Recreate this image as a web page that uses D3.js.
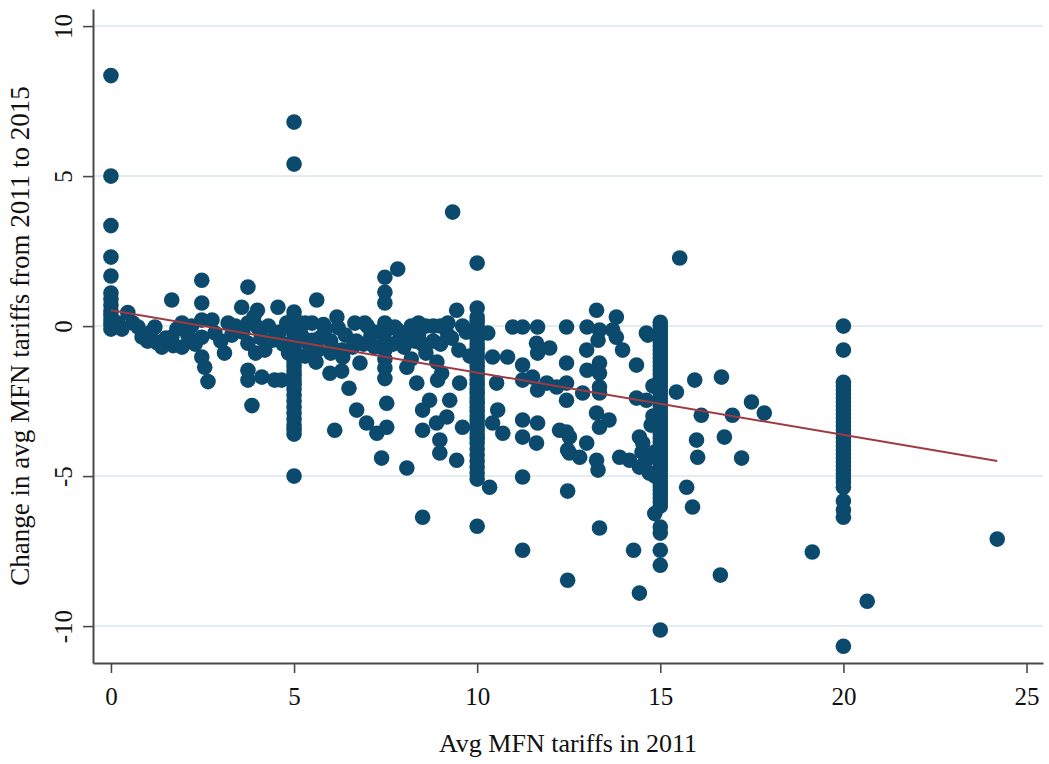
<!DOCTYPE html>
<html><head><meta charset="utf-8">
<script src="https://cdn.jsdelivr.net/npm/d3@7"></script>
<style>body{margin:0;background:#fff} svg{display:block}</style>
</head><body><svg id="c" width="1049" height="764"></svg>
<script>
// ---- data ----
const xTicks = [0, 5, 10, 15, 20, 25];
const yTicks = [-10, -5, 0, 5, 10];
const xTitle = "Avg MFN tariffs in 2011";
const yTitle = "Change in avg MFN tariffs from 2011 to 2015";

// vertical columns of countries at round tariff levels
const col0Y = [8.35, 5.0, 3.35, 2.3, 1.67, 1.1, 0.9, 0.7, 0.5, 0.35, 0.2, 0.05, -0.1];
const col5Y = [6.8, 5.4, 0.47, 0.3, 0.15, 0.0, -0.15, -0.3, -0.45, -0.6, -0.75, -0.9, -1.05, -1.2, -1.35, -1.5, -1.65, -1.8, -1.95, -2.1, -2.3, -2.5, -2.7, -2.9, -3.1, -3.3, -3.45, -3.6, -5.0];
const col10Y = [2.1, 0.6, 0.3, 0.15, 0.0, -0.15, -0.3, -0.45, -0.6, -0.75, -0.9, -1.05, -1.2, -1.35, -1.5, -1.65, -1.8, -1.95, -2.1, -2.25, -2.4, -2.55, -2.7, -2.85, -3.0, -3.15, -3.3, -3.45, -3.6, -3.75, -3.9, -4.1, -4.3, -4.5, -4.7, -4.9, -5.1, -6.67];
const col15Y = [0.13, 0.0, -0.13, -0.26, -0.4, -0.53, -0.66, -0.8, -0.93, -1.06, -1.2, -1.33, -1.46, -1.6, -1.73, -1.86, -2.0, -2.13, -2.26, -2.4, -2.53, -2.66, -2.8, -2.93, -3.06, -3.2, -3.33, -3.46, -3.6, -3.73, -3.86, -4.0, -4.13, -4.26, -4.4, -4.53, -4.66, -4.8, -4.93, -5.06, -5.2, -5.33, -5.46, -5.6, -5.73, -5.86, -6.0, -6.7, -6.9, -7.47, -7.97, -10.13];
const col20Y = [0.0, -0.8, -1.87, -2.0, -2.13, -2.26, -2.4, -2.53, -2.66, -2.8, -2.93, -3.06, -3.2, -3.33, -3.46, -3.6, -3.73, -3.86, -4.0, -4.13, -4.26, -4.4, -4.53, -4.66, -4.8, -4.93, -5.06, -5.2, -5.37, -5.83, -6.13, -6.37, -10.67];

// other countries [tariff 2011, change 2011-2015]
const pointsLow = [[0.2,0.1],[0.3,-0.1],[0.46,0.45],[0.6,0.1],[0.74,-0.03],[0.85,-0.36],[1.0,-0.5],[1.1,-0.2],[1.2,-0.03],[1.25,-0.55],[1.39,-0.7],[1.5,-0.4],[1.66,0.87],[1.66,-0.37],[1.7,-0.65],[1.8,-0.1],[1.94,0.1],[1.94,-0.7],[2.1,-0.3],[2.2,0.0],[2.3,-0.6],[2.48,1.53],[2.48,0.77],[2.48,0.2],[2.48,-0.37],[2.48,-1.03],[2.56,-1.37],[2.65,-1.85],[2.76,0.2],[2.84,-0.23],[3.0,-0.5],[3.1,-0.9],[3.2,0.1],[3.3,-0.3],[3.4,0.0],[3.57,0.63],[3.6,-0.2],[3.74,1.3],[3.74,0.1],[3.74,-0.57],[3.74,-1.47],[3.74,-1.8],[3.85,-2.65],[3.9,0.3],[3.95,-0.9],[4.0,0.53],[4.0,-0.03],[4.1,-0.4],[4.12,-1.7],[4.2,-0.8],[4.3,0.0],[4.4,-0.47],[4.47,-1.8],[4.56,0.63],[4.6,-0.2],[4.66,-1.8],[4.7,-0.6],[4.8,0.1],[4.85,-0.9]];
const pointsMid = [[5.3,0.1],[5.2,-0.3],[5.3,-1.0],[5.4,-0.6],[5.49,0.1],[5.49,-0.47],[5.6,-1.2],[5.62,0.87],[5.65,-0.8],[5.7,-0.4],[5.8,0.05],[5.84,-0.13],[5.98,-1.57],[6.0,-0.5],[6.0,-0.9],[6.11,-3.47],[6.17,0.3],[6.2,-0.05],[6.3,-0.8],[6.3,-1.5],[6.33,-1.03],[6.4,-0.3],[6.5,-2.07],[6.6,-0.7],[6.66,0.1],[6.7,-0.5],[6.71,-2.8],[6.8,-1.23],[6.9,-0.6],[6.93,0.1],[6.98,-3.23],[7.0,0.0],[7.1,-0.3],[7.2,-0.7],[7.2,-0.2],[7.26,-3.57],[7.39,-4.4],[7.48,1.63],[7.48,1.13],[7.48,0.77],[7.48,0.1],[7.48,-0.2],[7.48,-0.5],[7.48,-0.8],[7.48,-1.1],[7.48,-1.4],[7.48,-1.75],[7.53,-2.57],[7.53,-3.37],[7.7,-0.6],[7.75,-0.03],[7.8,-0.1],[7.83,1.9],[7.9,-0.4],[8.0,-0.7],[8.08,-1.37],[8.08,-4.73],[8.1,-0.2],[8.2,0.0],[8.2,-1.1],[8.3,-0.5],[8.35,-1.9],[8.4,-0.3],[8.4,0.1],[8.5,-0.6],[8.51,-2.8],[8.51,-3.47],[8.51,-6.37],[8.6,0.0],[8.6,-0.9],[8.7,-2.47],[8.8,-0.5],[8.8,0.0],[8.89,-3.23],[8.9,-1.2],[8.92,-1.8],[8.98,-3.8],[8.98,-4.23],[9.0,0.0],[9.0,-0.6],[9.03,-1.57],[9.17,-3.03],[9.2,-0.3],[9.2,0.1],[9.25,-2.47],[9.3,-0.4],[9.33,3.8],[9.44,0.53],[9.44,-4.47],[9.5,-0.8],[9.52,-1.9],[9.6,-3.37],[9.6,0.0],[9.7,-0.2],[9.8,-1.0]];
const pointsHigh = [[10.29,-0.23],[10.34,-5.37],[10.42,-1.03],[10.42,-3.23],[10.53,-1.9],[10.56,-2.8],[10.7,-3.57],[10.83,-1.03],[10.97,-0.03],[11.24,-0.03],[11.24,-1.3],[11.24,-1.8],[11.24,-3.13],[11.24,-3.7],[11.24,-5.03],[11.24,-7.47],[11.51,-1.7],[11.62,-0.57],[11.62,-3.9],[11.65,-0.03],[11.65,-0.9],[11.65,-2.13],[11.65,-3.23],[11.9,-1.9],[11.98,-0.73],[12.17,-2.03],[12.25,-3.47],[12.44,-0.03],[12.44,-1.23],[12.44,-1.9],[12.44,-2.47],[12.44,-3.53],[12.47,-4.13],[12.47,-5.5],[12.47,-8.47],[12.52,-3.7],[12.52,-4.23],[12.8,-4.37],[12.88,-2.23],[12.99,-3.9],[12.99,-0.8],[13.0,-1.47],[13.0,-0.03],[13.26,0.53],[13.26,-2.9],[13.26,-4.47],[13.3,-0.47],[13.3,-4.8],[13.34,-0.13],[13.34,-1.23],[13.34,-1.57],[13.34,-2.03],[13.34,-2.23],[13.34,-3.37],[13.34,-6.73],[13.6,-3.13],[13.7,-0.13],[13.8,0.3],[13.8,-0.37],[13.89,-4.37],[13.97,-0.8],[14.16,-4.47],[14.27,-7.47],[14.35,-1.3],[14.35,-2.4],[14.43,-3.7],[14.43,-4.7],[14.43,-8.9],[14.5,-4.2],[14.52,-3.9],[14.6,-4.5],[14.62,-0.23],[14.62,-2.47],[14.66,-0.3],[14.7,-4.9],[14.75,-3.3],[14.8,-2.0],[14.8,-3.0],[14.85,-4.2],[14.85,-5.0],[14.85,-6.25]];
const pointsTail = [[15.44,-2.2],[15.53,2.27],[15.72,-5.37],[15.88,-6.03],[15.94,-1.8],[15.99,-3.8],[16.02,-4.37],[16.12,-2.97],[16.64,-8.3],[16.67,-1.7],[16.75,-3.7],[16.97,-2.97],[17.22,-4.4],[17.49,-2.53],[17.84,-2.9],[19.15,-7.53],[20.65,-9.17],[24.2,-7.1]];

// fitted line end points
const fitX = [0, 24.2];
const fitY = [0.53, -4.5];

// ---- build ----
const cols = [[0, col0Y], [5, col5Y], [10, col10Y], [15, col15Y], [20, col20Y]];
const points = [];
cols.forEach(([x, ys]) => ys.forEach(y => points.push([x, y])));
[pointsLow, pointsMid, pointsHigh, pointsTail].forEach(a => a.forEach(p => points.push(p)));

const svg = d3.select("#c");
const font = "'Liberation Serif','Times New Roman',serif";
const x = d3.scaleLinear().domain([-0.49, 25.45]).range([93, 1043]);
const y = d3.scaleLinear().domain([-11.23, 10.57]).range([663, 9]);

// gridlines
svg.append("g").selectAll("line").data(yTicks).join("line")
  .attr("x1", x.range()[0]).attr("x2", x.range()[1])
  .attr("y1", d => y(d)).attr("y2", d => y(d))
  .attr("stroke", "#e3ecf1").attr("stroke-width", 2);

// points
svg.append("g").selectAll("circle").data(points).join("circle")
  .attr("cx", d => x(d[0])).attr("cy", d => y(d[1])).attr("r", 7.8)
  .attr("fill", "#0b4a6c");

// fitted line
svg.append("line")
  .attr("x1", x(fitX[0])).attr("y1", y(fitY[0]))
  .attr("x2", x(fitX[1])).attr("y2", y(fitY[1]))
  .attr("stroke", "#a03a42").attr("stroke-width", 2);

// axes
const axisColor = "#4a4a4a";
const fmt = d => String(d);
const gx = svg.append("g").attr("transform", `translate(0,${y.range()[0]})`)
  .call(d3.axisBottom(x).tickValues(xTicks).tickSize(10).tickSizeOuter(0).tickFormat(fmt));
const gy = svg.append("g").attr("transform", `translate(${x.range()[0]},0)`)
  .call(d3.axisLeft(y).tickValues(yTicks).tickSize(10).tickSizeOuter(0).tickFormat(fmt));
[gx, gy].forEach(g => {
  g.select(".domain").attr("stroke", axisColor).attr("stroke-width", 2);
  g.selectAll(".tick line").attr("stroke", axisColor).attr("stroke-width", 1.6);
  g.selectAll("text").attr("fill", "#111").style("font-family", font).style("font-size", "25px");
});
gx.selectAll("text").attr("y", 42).attr("dy", 0);
gy.selectAll("text").attr("x", 0).attr("y", -21).attr("dy", 0)
  .attr("text-anchor", "middle").attr("transform", "rotate(-90)");

// titles
svg.append("text").attr("x", (x.range()[0] + x.range()[1]) / 2).attr("y", 752)
  .attr("text-anchor", "middle").style("font-family", font).style("font-size", "26px")
  .attr("fill", "#111").text(xTitle);
svg.append("text").attr("transform", `translate(29,${(y.range()[0] + y.range()[1]) / 2}) rotate(-90)`)
  .attr("text-anchor", "middle").style("font-family", font).style("font-size", "27px")
  .attr("fill", "#111").text(yTitle);
</script></body></html>
